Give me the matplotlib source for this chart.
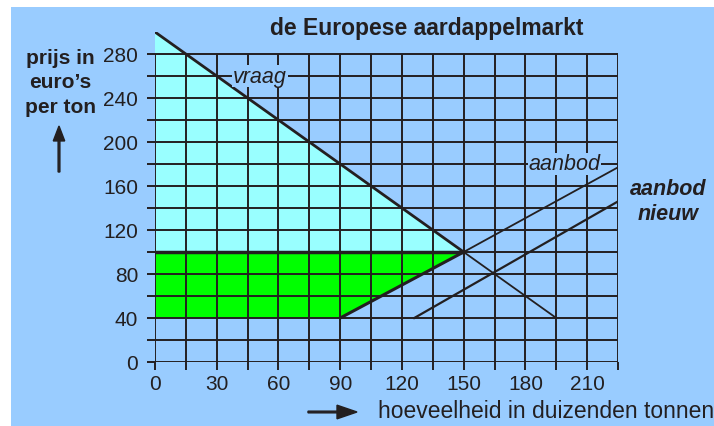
import matplotlib
matplotlib.use('Agg')
import matplotlib.pyplot as plt
from matplotlib.patches import Rectangle

plt.rcParams['font.family'] = ['Liberation Sans', 'DejaVu Sans']

# data
vraag_x = [0, 150, 195]
vraag_y = [300, 100, 40]
aanbod_x = [90, 150, 225]
aanbod_y = [40, 100, 177]
nieuw_x = [126, 225]
nieuw_y = [40, 146]
prijs = 100
min_prijs = 40

x_ticks = list(range(0, 226, 15))
x_labels = [str(v) if v % 30 == 0 and v < 225 else '' for v in x_ticks]
y_ticks = list(range(0, 281, 20))
y_labels = [str(v) if v % 40 == 0 else '' for v in y_ticks]

blue = '#99ccff'
cyan = '#99ffff'
green = '#00ff00'
ink = '#231f20'

fig = plt.figure(figsize=(7.14, 4.27), dpi=100)
fig.patch.set_facecolor('white')
fig.patches.append(Rectangle((11/714, 0), 1, 1 - 8/427, transform=fig.transFigure,
                             facecolor=blue, edgecolor='none', zorder=-10))

ax = fig.add_axes([155/714, 1 - 363/427, 463/714, 330/427])
ax.set_facecolor(blue)
ax.set_xlim(0, 225)
ax.set_ylim(0, 300)
for s in ax.spines.values():
    s.set_visible(False)

# shaded areas
ax.fill([0, vraag_x[1], 0], [vraag_y[0], prijs, prijs], color=cyan, lw=0, zorder=1)
ax.fill([0, aanbod_x[1], aanbod_x[0], 0], [prijs, prijs, min_prijs, min_prijs],
        color=green, lw=0, zorder=1)

# grid
ax.hlines(y_ticks, 0, 225, color=ink, lw=1.4, zorder=2)
ax.vlines(x_ticks, 0, 280, color=ink, lw=1.4, zorder=2)

# curves
ax.plot(vraag_x[:2], vraag_y[:2], color=ink, lw=2, zorder=3)
ax.plot(vraag_x[1:], vraag_y[1:], color=ink, lw=1.3, zorder=3)
ax.plot(aanbod_x[:2], aanbod_y[:2], color=ink, lw=2.2, zorder=3)
ax.plot(aanbod_x[1:], aanbod_y[1:], color=ink, lw=1.3, zorder=3)
ax.plot(nieuw_x, nieuw_y, color=ink, lw=1.6, zorder=3)
ax.hlines(prijs, 0, aanbod_x[1], color=ink, lw=2.5, zorder=3)

ax.text(51, 260, 'vraag', style='italic', fontsize=15.5, ha='center', va='center',
        color=ink, zorder=4, bbox=dict(facecolor=blue, edgecolor='none', pad=0.5))
ax.text(199, 180, 'aanbod', style='italic', fontsize=15.5, ha='center', va='center',
        color=ink, zorder=4, bbox=dict(facecolor=blue, edgecolor='none', pad=0.5))

ax.set_xticks(x_ticks)
ax.set_xticklabels(x_labels, fontsize=15, color=ink)
ax.set_yticks(y_ticks)
ax.set_yticklabels(y_labels, fontsize=15, color=ink)
ax.tick_params(length=6, width=1.4, color=ink)
ax.tick_params(axis='x', pad=3)
ax.tick_params(axis='y', pad=6)

fig.text(427/714, 1 - 28/427, 'de Europese aardappelmarkt', fontsize=16.5,
         fontweight='bold', ha='center', va='center', color=ink)
fig.text(60/714, 1 - 83/427, 'prijs in\neuro\u2019s\nper ton', fontsize=15,
         fontweight='bold', ha='center', va='center', color=ink, linespacing=1.35)
fig.text(668/714, 1 - 202/427, 'aanbod\nnieuw', fontsize=15.5, fontweight='bold',
         style='italic', ha='center', va='center', color=ink, linespacing=1.3)
fig.text(714/714, 1 - 412/427, 'hoeveelheid in duizenden tonnen', fontsize=16.5,
         ha='right', va='center', color=ink)

fig.patches.append(matplotlib.patches.FancyArrow(
    59/714, 1 - 173/427, 0, 46/427, width=0.0025, head_width=0.016,
    head_length=0.035, length_includes_head=True, transform=fig.transFigure,
    color=ink))
fig.patches.append(matplotlib.patches.FancyArrow(
    308/714, 1 - 413/427, 49/714, 0, width=0.004, head_width=0.032,
    head_length=0.028, length_includes_head=True, transform=fig.transFigure,
    color=ink))

fig.savefig('out.png', dpi=100)
